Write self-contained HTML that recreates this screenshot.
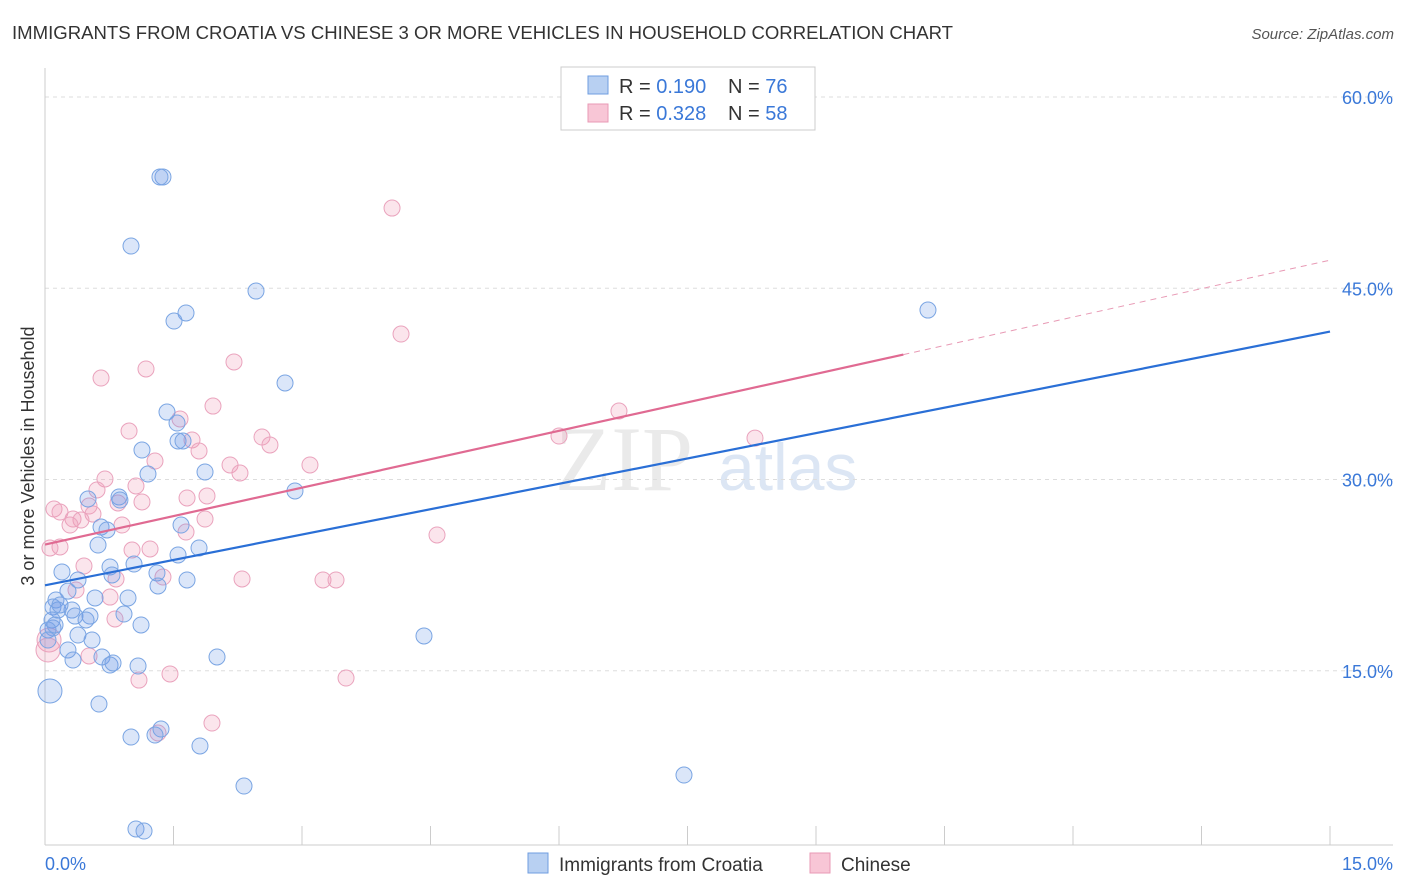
<!DOCTYPE html>
<html><head><meta charset="utf-8"><style>
body{margin:0;background:#fff;font-family:"Liberation Sans",sans-serif;}
</style></head><body>
<svg id="chart" width="1406" height="892" xmlns="http://www.w3.org/2000/svg" style="display:block">
<text x="12" y="39" font-size="18" fill="#333" textLength="941" lengthAdjust="spacingAndGlyphs">IMMIGRANTS FROM CROATIA VS CHINESE 3 OR MORE VEHICLES IN HOUSEHOLD CORRELATION CHART</text>
<text x="1394" y="39" font-size="15" fill="#555" text-anchor="end" font-style="italic">Source: ZipAtlas.com</text>
<text x="555" y="490" font-size="92" fill="#ddd" font-family="Liberation Serif" opacity="0.6">ZIP</text>
<text x="718" y="490" font-size="66" fill="#c5d6ee" opacity="0.6">atlas</text>
<g id="grid"></g>
<g id="axes"></g>
<g id="marks"></g>
<text transform="translate(34,456) rotate(-90)" font-size="18" fill="#333" text-anchor="middle">3 or more Vehicles in Household</text>
<g>
<rect x="561" y="67" width="254" height="63" fill="#fff" stroke="#ccc"/>
<rect x="588" y="76" width="20" height="18" fill="#b8d0f2" stroke="#6f9ee0"/>
<rect x="588" y="104" width="20" height="18" fill="#f8c6d6" stroke="#e89ab5"/>
<text x="619" y="93" font-size="20" fill="#333">R = <tspan fill="#3a78d8">0.190</tspan><tspan x="728">N = </tspan><tspan fill="#3a78d8">76</tspan></text>
<text x="619" y="120" font-size="20" fill="#333">R = <tspan fill="#3a78d8">0.328</tspan><tspan x="728">N = </tspan><tspan fill="#3a78d8">58</tspan></text>
</g>
<g>
<rect x="528" y="853" width="20" height="20" fill="#b8d0f2" stroke="#6f9ee0"/>
<text x="559" y="871" font-size="19" fill="#333">Immigrants from Croatia</text>
<rect x="810" y="853" width="20" height="20" fill="#f8c6d6" stroke="#e89ab5"/>
<text x="841" y="871" font-size="19" fill="#333">Chinese</text>
</g>
</svg>
<script>
const xTicks=[0,15];
const yTicks=[15,30,45,60];
const blueX=[],blueY=[],pinkX=[],pinkY=[];
const bluePx=[[163,177],[160,177],[131,246],[256,291],[186,313],[174,321],[285,383],[928,310],[167,412],[177,423],[178,441],[183,441],[142,450],[205,472],[148,474],[295,491],[88,499],[119,497],[120,500],[101,527],[107,530],[181,525],[98,545],[199,548],[178,555],[134,564],[62,572],[110,567],[112,575],[157,573],[187,580],[158,586],[78,580],[68,591],[95,598],[128,598],[56,600],[53,607],[58,610],[72,610],[75,616],[90,616],[86,620],[124,614],[141,625],[52,620],[53,628],[48,630],[78,635],[92,640],[424,636],[68,650],[73,660],[102,657],[217,657],[110,665],[113,663],[138,666],[50,691],[99,704],[161,729],[155,735],[131,737],[200,746],[244,786],[684,775],[136,829],[144,831],[55,625],[48,640],[60,605]];
const pinkPx=[[392,208],[401,334],[146,369],[101,378],[234,362],[213,406],[619,411],[180,419],[129,431],[755,438],[559,436],[192,440],[262,437],[155,461],[199,451],[270,445],[230,465],[240,473],[310,465],[105,479],[136,486],[97,490],[187,498],[207,496],[54,509],[60,512],[118,503],[142,502],[89,506],[93,514],[73,519],[81,520],[70,525],[205,519],[122,525],[186,532],[437,535],[60,547],[50,548],[132,550],[150,549],[84,566],[116,579],[242,579],[323,580],[336,580],[163,577],[110,597],[76,590],[115,619],[89,656],[49,640],[170,674],[139,680],[346,678],[212,723],[158,733],[48,650]];
bluePx.forEach(p=>{blueX.push(+((p[0]-45)/1285*15).toFixed(3));blueY.push(+((862-p[1])/191.25*15).toFixed(2));});
pinkPx.forEach(p=>{pinkX.push(+((p[0]-45)/1285*15).toFixed(3));pinkY.push(+((862-p[1])/191.25*15).toFixed(2));});
const blueTrend=[21.7,41.6];
const pinkTrend=[24.9,47.2];
const pinkSolidEnd=10.02;
const X=v=>45+v/15*1285, Y=v=>862-v/60*765;
const NS="http://www.w3.org/2000/svg";
function mk(parent,tag,attrs){const e=document.createElementNS(NS,tag);for(const k in attrs)e.setAttribute(k,attrs[k]);document.getElementById(parent).appendChild(e);return e;}
yTicks.forEach(t=>{
  const l=mk('grid','line',{x1:45,x2:1393,y1:Y(t),y2:Y(t),stroke:'#ddd','stroke-dasharray':'4,4'});
  
  
  const tx=mk('grid','text',{x:1393,y:Y(t)+7,'font-size':18,fill:'#3a78d8','text-anchor':'end'});
  tx.textContent=t.toFixed(1)+'%';
  
  
});
mk('axes','line',{x1:45,x2:45,y1:68,y2:845,stroke:'#ccc'});
mk('axes','line',{x1:45,x2:1393,y1:845,y2:845,stroke:'#ccc'});
for(let i=0;i<=10;i++){const x=X(i*1.5);mk('axes','line',{x1:x,x2:x,y1:826,y2:845,stroke:'#ccc'});}
xTicks.forEach((t,i)=>{
  const tx=mk('axes','text',{x:i?1393:45,y:870,'font-size':18,fill:'#3a78d8','text-anchor':i?'end':'start'});
  tx.textContent=t.toFixed(1)+'%';
  
  
});
function dot(x,y,fill,stroke,name,r){
  const c=mk('marks','circle',{cx:X(x),cy:Y(y),r:r,fill:fill,stroke:stroke,'stroke-width':1});
  
  
}
pinkX.forEach((x,i)=>dot(x,pinkY[i],'rgba(240,150,180,0.25)','#eaa3bd','chinese-point',(x<0.05)?12:8));
blueX.forEach((x,i)=>dot(x,blueY[i],'rgba(110,155,230,0.25)','#7aa5e3','croatia-point',(x<0.1&&blueY[i]<14)?12:8));
const bl=mk('marks','line',{x1:X(0),y1:Y(blueTrend[0]),x2:X(15),y2:Y(blueTrend[1]),stroke:'#2a6fd6','stroke-width':2.2});


const py=v=>pinkTrend[0]+(pinkTrend[1]-pinkTrend[0])*v/15;
const pl=mk('marks','line',{x1:X(0),y1:Y(pinkTrend[0]),x2:X(pinkSolidEnd),y2:Y(py(pinkSolidEnd)),stroke:'#e06a92','stroke-width':2.2});


const pd=mk('marks','line',{x1:X(pinkSolidEnd),y1:Y(py(pinkSolidEnd)),x2:X(15),y2:Y(pinkTrend[1]),stroke:'#e89ab5','stroke-width':1,'stroke-dasharray':'6,5'});


</script>
</body></html>
